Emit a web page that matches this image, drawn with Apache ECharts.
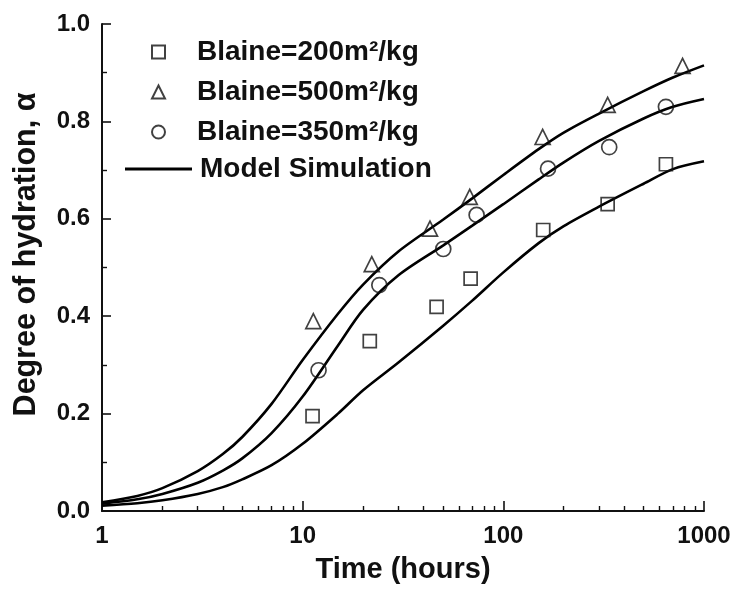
<!DOCTYPE html>
<html><head><meta charset="utf-8">
<script src="https://cdn.jsdelivr.net/npm/echarts@6/dist/echarts.min.js"></script>
<style>html,body{margin:0;padding:0;background:#fff}#c{width:736px;height:592px}</style>
</head><body><div id="c"></div>
<script>
// ---- data ----
const curveTimes = [1, 1.5, 2, 3, 4, 5, 7, 10, 15, 20, 30, 50, 70, 100, 150, 200, 300, 500, 700, 1000];
const model500 = [0.018, 0.031, 0.047, 0.082, 0.117, 0.152, 0.22, 0.31, 0.405, 0.465, 0.533, 0.598, 0.642, 0.69, 0.743, 0.777, 0.816, 0.862, 0.89, 0.915];
const model350 = [0.015, 0.024, 0.035, 0.058, 0.083, 0.108, 0.16, 0.235, 0.34, 0.413, 0.484, 0.545, 0.586, 0.63, 0.681, 0.716, 0.76, 0.806, 0.83, 0.846];
const model200 = [0.011, 0.016, 0.022, 0.035, 0.049, 0.065, 0.094, 0.138, 0.2, 0.248, 0.305, 0.38, 0.432, 0.49, 0.55, 0.585, 0.625, 0.672, 0.702, 0.718];

const time200 = [11.2, 21.6, 46.5, 68.7, 158, 331, 646];
const alpha200 = [0.195, 0.349, 0.419, 0.477, 0.577, 0.630, 0.712];
const time500 = [11.3, 22.1, 43.1, 68, 157, 331, 782];
const alpha500 = [0.390, 0.507, 0.580, 0.645, 0.768, 0.834, 0.914];
const time350 = [12, 24.1, 50.2, 73.6, 167, 337, 646];
const alpha350 = [0.289, 0.464, 0.538, 0.608, 0.703, 0.747, 0.830];

const xMajorTicks = [1, 10, 100, 1000];
const xMinorTicks = [2, 3, 4, 5, 6, 7, 8, 9, 20, 30, 40, 50, 60, 70, 80, 90, 200, 300, 400, 500, 600, 700, 800, 900];
const seriesNames = ['Blaine=200m²/kg', 'Blaine=500m²/kg', 'Blaine=350m²/kg', 'Model Simulation'];

// ---- build ----
const zip = (xs, ys) => xs.map((x, i) => [x, ys[i]]);
const FONT = '"Liberation Sans", Arial, Helvetica, sans-serif';
const chart = echarts.init(document.getElementById('c'));

const lineSeries = (vals) => ({
  type: 'line', name: seriesNames[3], xAxisIndex: 0, yAxisIndex: 0,
  data: zip(curveTimes, vals), showSymbol: false, symbol: 'none', smooth: 0.3,
  lineStyle: { color: '#000', width: 2.6 }, itemStyle: { color: '#000' }, z: 2, silent: true
});
const scatterSeries = (name, sym, size, xs, ys) => ({
  type: 'scatter', name, xAxisIndex: 0, yAxisIndex: 0,
  data: zip(xs, ys), symbol: sym, symbolSize: size,
  itemStyle: { color: 'rgba(0,0,0,0)', borderColor: '#111', borderWidth: 1.7 }, z: 3, silent: true
});

chart.setOption({
  animation: false,
  backgroundColor: '#fff',
  grid: { left: 102, right: 32, top: 24, bottom: 81, containLabel: false },
  legend: [
    {
      data: seriesNames.slice(0, 3), orient: 'vertical', left: 146, top: 31,
      itemWidth: 13, itemHeight: 13, itemGap: 8, selectedMode: false,
      textStyle: { fontFamily: FONT, fontWeight: 'bold', fontSize: 28, color: '#111', lineHeight: 32, padding: [0, 0, 0, 27] }
    },
    {
      data: [{ name: seriesNames[3], icon: 'rect' }], orient: 'vertical', left: 120, top: 148,
      itemWidth: 67, itemHeight: 3, selectedMode: false,
      itemStyle: { color: '#000', borderWidth: 0 },
      textStyle: { fontFamily: FONT, fontWeight: 'bold', fontSize: 28, color: '#111', lineHeight: 32, padding: [0, 0, 0, 3] }
    }
  ],
  xAxis: [
    {
      type: 'log', logBase: 10, min: 1, max: 1000,
      name: 'Time (hours)', nameLocation: 'middle', nameGap: 44,
      nameTextStyle: { fontFamily: FONT, fontWeight: 'bold', fontSize: 29, color: '#111' },
      axisLine: { show: true, onZero: false, lineStyle: { color: '#111', width: 2 } },
      axisTick: { show: true, inside: true, length: 10, lineStyle: { color: '#111', width: 1.6 }, customValues: xMajorTicks },
      minorTick: { show: false },
      axisLabel: { fontFamily: FONT, fontWeight: 'bold', fontSize: 24, color: '#111', margin: 13, customValues: xMajorTicks, formatter: (v) => String(Math.round(v)) },
      splitLine: { show: false }
    },
    {
      type: 'log', logBase: 10, min: 1, max: 1000, position: 'bottom', gridIndex: 0,
      axisLine: { show: false },
      axisTick: { show: true, inside: true, length: 5, lineStyle: { color: '#111', width: 1.4 }, customValues: xMinorTicks },
      axisLabel: { show: false },
      splitLine: { show: false }
    }
  ],
  yAxis: {
    type: 'value', min: 0, max: 1, interval: 0.2,
    name: 'Degree of hydration, α', nameLocation: 'middle', nameGap: 60,
    nameTextStyle: { fontFamily: FONT, fontWeight: 'bold', fontSize: 30.5, color: '#111', padding: [0, 0, 0, 26] },
    axisLine: { show: true, lineStyle: { color: '#111', width: 2 } },
    axisTick: { show: true, inside: true, length: 9, lineStyle: { color: '#111', width: 1.6 } },
    minorTick: { show: true, splitNumber: 2, length: 5, lineStyle: { color: '#111', width: 1.4 } },
    axisLabel: { fontFamily: FONT, fontWeight: 'bold', fontSize: 24, color: '#111', margin: 12, formatter: (v) => v.toFixed(1) },
    splitLine: { show: false }
  },
  series: [
    lineSeries(model500),
    lineSeries(model350),
    lineSeries(model200),
    scatterSeries(seriesNames[0], 'rect', 13, time200, alpha200),
    scatterSeries(seriesNames[1], 'triangle', 15, time500, alpha500),
    scatterSeries(seriesNames[2], 'circle', 15, time350, alpha350)
  ]
});
</script></body></html>
